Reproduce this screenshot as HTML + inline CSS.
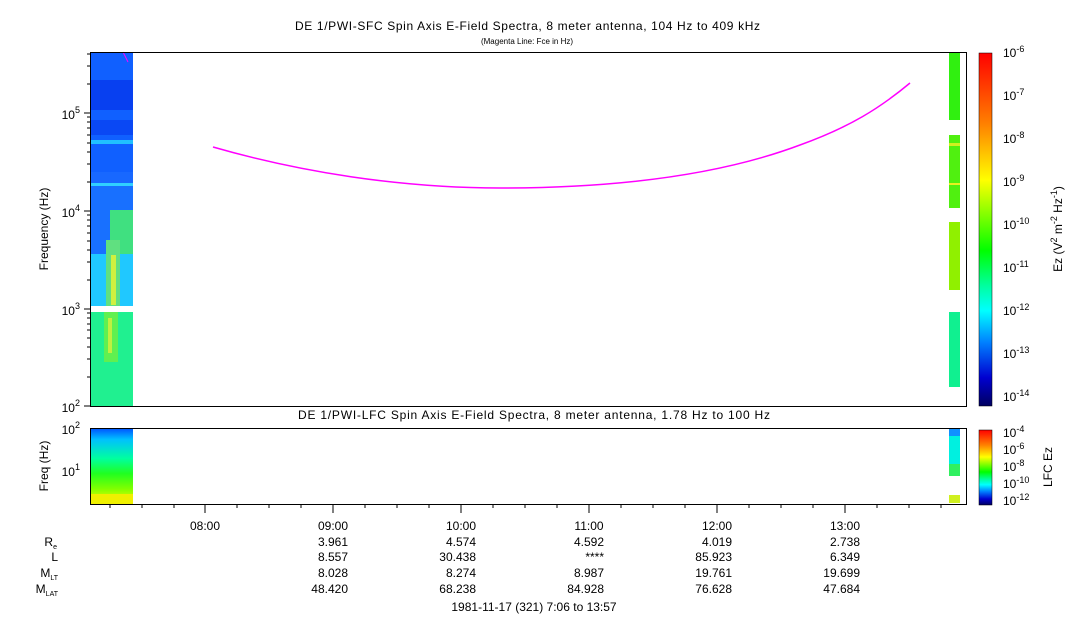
<!DOCTYPE html>
<html><head><meta charset="utf-8"><style>
body{margin:0;background:#fff;}
svg{display:block;font-family:"Liberation Sans",sans-serif;}
</style></head><body>
<svg width="1083" height="620" viewBox="0 0 1083 620" xmlns="http://www.w3.org/2000/svg">
<defs>
<linearGradient id="cb" x1="0" y1="0" x2="0" y2="1">
<stop offset="0" stop-color="#ff0000"/>
<stop offset="0.2" stop-color="#ff8000"/>
<stop offset="0.36" stop-color="#ffff00"/>
<stop offset="0.46" stop-color="#80ff00"/>
<stop offset="0.56" stop-color="#00ff00"/>
<stop offset="0.66" stop-color="#00ffa0"/>
<stop offset="0.73" stop-color="#00ffff"/>
<stop offset="0.82" stop-color="#0080ff"/>
<stop offset="0.92" stop-color="#0000d0"/>
<stop offset="1" stop-color="#000060"/>
</linearGradient>
<linearGradient id="lo" x1="0" y1="0" x2="0" y2="1">
<stop offset="0" stop-color="#0050ff"/>
<stop offset="0.15" stop-color="#00c0ff"/>
<stop offset="0.4" stop-color="#00ffa0"/>
<stop offset="0.6" stop-color="#20ff20"/>
<stop offset="0.8" stop-color="#80ff00"/>
<stop offset="1" stop-color="#ffff00"/>
</linearGradient>
</defs>
<text x="295" y="30" font-size="12" textLength="465" lengthAdjust="spacing">DE 1/PWI-SFC  Spin Axis E-Field Spectra, 8 meter antenna, 104 Hz to 409 kHz</text>
<text x="527" y="44" font-size="8" text-anchor="middle">(Magenta Line: Fce in Hz)</text>

<rect x="90" y="52" width="43" height="120" fill="#1060ff"/>
<rect x="90" y="80" width="43" height="30" fill="#0840f0"/>
<rect x="90" y="120" width="43" height="15" fill="#0a48f4"/>
<rect x="90" y="140" width="43" height="4" fill="#20c0ff"/>
<rect x="90" y="172" width="43" height="12" fill="#1868ff"/>
<rect x="90" y="184" width="43" height="70" fill="#1870ff"/>
<rect x="90" y="183" width="43" height="3" fill="#30d0ff"/>
<rect x="110" y="210" width="23" height="44" fill="#40e080"/>
<rect x="90" y="254" width="43" height="52" fill="#20c8ff"/>
<rect x="106" y="240" width="14" height="66" fill="#60e080"/>
<rect x="111" y="255" width="5" height="50" fill="#d0f040"/>
<rect x="90" y="312" width="43" height="94" fill="#20f090"/>
<rect x="104" y="312" width="14" height="50" fill="#60f050"/>
<rect x="108" y="318" width="4" height="35" fill="#c0f040"/>

<rect x="949" y="52" width="11" height="68" fill="#30f010"/>
<rect x="949" y="135" width="11" height="73" fill="#50f010"/>
<rect x="949" y="143" width="11" height="3" fill="#d0f020"/>
<rect x="949" y="183" width="11" height="2" fill="#e8f020"/>
<rect x="949" y="222" width="11" height="68" fill="#90f000"/>
<rect x="949" y="312" width="11" height="75" fill="#10f090"/>

<path d="M213,147 C300,172 400,188 500,188 C620,188 720,175 800,145 C850,127 880,108 910,83" fill="none" stroke="#ff00ff" stroke-width="1.5"/>
<line x1="123" y1="52" x2="128" y2="62" stroke="#ff00ff" stroke-width="1"/>

<rect x="90.5" y="52.5" width="876" height="354" fill="none" stroke="#000"/>
<g stroke="#000">
<line x1="84" y1="406" x2="90" y2="406"/><line x1="84" y1="309" x2="90" y2="309"/><line x1="84" y1="211" x2="90" y2="211"/><line x1="84" y1="113" x2="90" y2="113"/>
<line x1="87" y1="377" x2="90" y2="377"/><line x1="87" y1="359" x2="90" y2="359"/><line x1="87" y1="347" x2="90" y2="347"/><line x1="87" y1="338" x2="90" y2="338"/><line x1="87" y1="330" x2="90" y2="330"/><line x1="87" y1="324" x2="90" y2="324"/><line x1="87" y1="318" x2="90" y2="318"/><line x1="87" y1="313" x2="90" y2="313"/>
<line x1="87" y1="280" x2="90" y2="280"/><line x1="87" y1="262" x2="90" y2="262"/><line x1="87" y1="250" x2="90" y2="250"/><line x1="87" y1="241" x2="90" y2="241"/><line x1="87" y1="233" x2="90" y2="233"/><line x1="87" y1="226" x2="90" y2="226"/><line x1="87" y1="220" x2="90" y2="220"/><line x1="87" y1="215" x2="90" y2="215"/>
<line x1="87" y1="182" x2="90" y2="182"/><line x1="87" y1="164" x2="90" y2="164"/><line x1="87" y1="152" x2="90" y2="152"/><line x1="87" y1="143" x2="90" y2="143"/><line x1="87" y1="135" x2="90" y2="135"/><line x1="87" y1="128" x2="90" y2="128"/><line x1="87" y1="122" x2="90" y2="122"/><line x1="87" y1="117" x2="90" y2="117"/>
<line x1="87" y1="84" x2="90" y2="84"/><line x1="87" y1="66" x2="90" y2="66"/><line x1="87" y1="54" x2="90" y2="54"/>
</g>
<g font-size="12" text-anchor="end">
<text x="80" y="412">10<tspan dy="-6" font-size="9">2</tspan></text>
<text x="80" y="315">10<tspan dy="-6" font-size="9">3</tspan></text>
<text x="80" y="217">10<tspan dy="-6" font-size="9">4</tspan></text>
<text x="80" y="119">10<tspan dy="-6" font-size="9">5</tspan></text>
</g>
<text transform="translate(48,229) rotate(-90)" font-size="12" text-anchor="middle">Frequency (Hz)</text>

<rect x="979" y="53" width="13" height="353" fill="url(#cb)" stroke="#000" stroke-width="0.5"/>
<g font-size="12">
<text x="1003" y="57">10<tspan dy="-5" font-size="9">-6</tspan></text>
<text x="1003" y="100">10<tspan dy="-5" font-size="9">-7</tspan></text>
<text x="1003" y="143">10<tspan dy="-5" font-size="9">-8</tspan></text>
<text x="1003" y="186">10<tspan dy="-5" font-size="9">-9</tspan></text>
<text x="1003" y="229">10<tspan dy="-5" font-size="9">-10</tspan></text>
<text x="1003" y="272">10<tspan dy="-5" font-size="9">-11</tspan></text>
<text x="1003" y="315">10<tspan dy="-5" font-size="9">-12</tspan></text>
<text x="1003" y="358">10<tspan dy="-5" font-size="9">-13</tspan></text>
<text x="1003" y="401">10<tspan dy="-5" font-size="9">-14</tspan></text>
</g>
<text transform="translate(1062,229) rotate(-90)" font-size="12" text-anchor="middle">Ez (V<tspan dy="-5" font-size="9">2</tspan><tspan dy="5"> m</tspan><tspan dy="-5" font-size="9">-2</tspan><tspan dy="5"> Hz</tspan><tspan dy="-5" font-size="9">-1</tspan><tspan dy="5">)</tspan></text>

<text x="298" y="419" font-size="12" textLength="472" lengthAdjust="spacing">DE 1/PWI-LFC  Spin Axis E-Field Spectra, 8 meter antenna, 1.78 Hz to 100 Hz</text>
<rect x="90" y="428" width="43" height="76" fill="url(#lo)"/>
<rect x="90" y="494" width="43" height="10" fill="#f0f000"/>
<rect x="949" y="428" width="11" height="8" fill="#1090ff"/>
<rect x="949" y="436" width="11" height="28" fill="#00f0e0"/>
<rect x="949" y="464" width="11" height="12" fill="#30f060"/>
<rect x="949" y="495" width="11" height="8" fill="#d0f020"/>
<rect x="90.5" y="428.5" width="876" height="76" fill="none" stroke="#000"/>
<g font-size="12" text-anchor="end">
<text x="80" y="434">10<tspan dy="-6" font-size="9">2</tspan></text>
<text x="80" y="476">10<tspan dy="-6" font-size="9">1</tspan></text>
</g>
<text transform="translate(48,466) rotate(-90)" font-size="12" text-anchor="middle">Freq (Hz)</text>
<rect x="979" y="430" width="13" height="75" fill="url(#cb)" stroke="#000" stroke-width="0.5"/>
<g font-size="12">
<text x="1003" y="437">10<tspan dy="-5" font-size="9">-4</tspan></text>
<text x="1003" y="454">10<tspan dy="-5" font-size="9">-6</tspan></text>
<text x="1003" y="471">10<tspan dy="-5" font-size="9">-8</tspan></text>
<text x="1003" y="488">10<tspan dy="-5" font-size="9">-10</tspan></text>
<text x="1003" y="505">10<tspan dy="-5" font-size="9">-12</tspan></text>
</g>
<text transform="translate(1052,467) rotate(-90)" font-size="12" text-anchor="middle">LFC Ez</text>

<g stroke="#000">
<line x1="205" y1="504" x2="205" y2="513"/><line x1="333" y1="504" x2="333" y2="513"/><line x1="461" y1="504" x2="461" y2="513"/><line x1="589" y1="504" x2="589" y2="513"/><line x1="717" y1="504" x2="717" y2="513"/><line x1="845" y1="504" x2="845" y2="513"/>
<line x1="110" y1="504" x2="110" y2="508"/><line x1="142" y1="504" x2="142" y2="508"/><line x1="174" y1="504" x2="174" y2="508"/>
<line x1="237" y1="504" x2="237" y2="508"/><line x1="269" y1="504" x2="269" y2="508"/><line x1="301" y1="504" x2="301" y2="508"/>
<line x1="365" y1="504" x2="365" y2="508"/><line x1="397" y1="504" x2="397" y2="508"/><line x1="429" y1="504" x2="429" y2="508"/>
<line x1="493" y1="504" x2="493" y2="508"/><line x1="525" y1="504" x2="525" y2="508"/><line x1="557" y1="504" x2="557" y2="508"/>
<line x1="621" y1="504" x2="621" y2="508"/><line x1="653" y1="504" x2="653" y2="508"/><line x1="685" y1="504" x2="685" y2="508"/>
<line x1="749" y1="504" x2="749" y2="508"/><line x1="781" y1="504" x2="781" y2="508"/><line x1="813" y1="504" x2="813" y2="508"/>
<line x1="877" y1="504" x2="877" y2="508"/><line x1="909" y1="504" x2="909" y2="508"/><line x1="941" y1="504" x2="941" y2="508"/>
</g>
<g font-size="12" text-anchor="middle">
<text x="205" y="530">08:00</text><text x="333" y="530">09:00</text><text x="461" y="530">10:00</text><text x="589" y="530">11:00</text><text x="717" y="530">12:00</text><text x="845" y="530">13:00</text>
</g>
<g font-size="12" text-anchor="end">
<text x="57" y="546">R<tspan font-size="7" dy="3">e</tspan></text>
<text x="58" y="561">L</text>
<text x="58" y="577">M<tspan font-size="7" dy="3">LT</tspan></text>
<text x="58" y="593">M<tspan font-size="7" dy="3">LAT</tspan></text>
</g>
<g font-size="12" text-anchor="end">
<text x="348" y="546">3.961</text><text x="476" y="546">4.574</text><text x="604" y="546">4.592</text><text x="732" y="546">4.019</text><text x="860" y="546">2.738</text>
<text x="348" y="561">8.557</text><text x="476" y="561">30.438</text><text x="604" y="561">****</text><text x="732" y="561">85.923</text><text x="860" y="561">6.349</text>
<text x="348" y="577">8.028</text><text x="476" y="577">8.274</text><text x="604" y="577">8.987</text><text x="732" y="577">19.761</text><text x="860" y="577">19.699</text>
<text x="348" y="593">48.420</text><text x="476" y="593">68.238</text><text x="604" y="593">84.928</text><text x="732" y="593">76.628</text><text x="860" y="593">47.684</text>
</g>
<text x="534" y="611" font-size="12" text-anchor="middle">1981-11-17 (321) 7:06 to 13:57</text>
</svg>
</body></html>
